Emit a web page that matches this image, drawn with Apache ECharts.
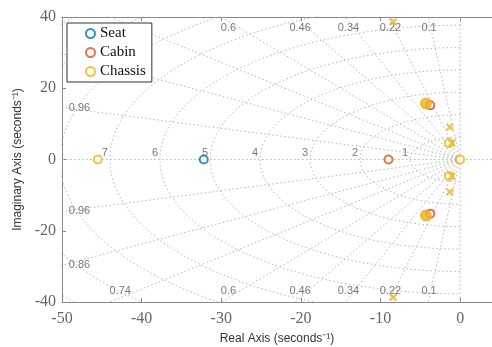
<!DOCTYPE html>
<html>
<head>
<meta charset="utf-8">
<script src="https://cdn.jsdelivr.net/npm/echarts@6/dist/echarts.min.js"></script>
<style>
  html, body { margin: 0; padding: 0; background: #fff; }
  #chart { width: 492px; height: 347px; }
</style>
</head>
<body>
<div id="chart"></div>
<script>
// pole-zero map values (seconds^-1)
var seatZeros = [[-32.2, 0]];
var cabinZeros = [[-9.0, 0], [-3.75, 15.2], [-3.75, -15.2]];
var chassisZeros = [[-45.5, 0], [0, 0], [-1.4, 4.6], [-1.4, -4.6]];
var chassisZeroPairs = [[-4.3, 15.7], [-4.3, -15.7]];   // overlapping zeros, look filled
var chassisPoles = [[-1.05, 4.6], [-1.05, -4.6], [-1.3, 9.1], [-1.3, -9.1], [-8.4, 38.7], [-8.4, -38.7]];

// sgrid
var dampingRatios = [0.1, 0.22, 0.34, 0.46, 0.6, 0.74, 0.86, 0.96];
var freqLabels = [1, 2, 3, 4, 5, 6, 7];          // labelled circles (Hz)
var freqCircles = [1, 2, 3, 4, 5, 6, 7, 8, 9, 10];
var xTicks = [-50, -40, -30, -20, -10, 0];
var yTicks = [-40, -20, 0, 20, 40];

var colors = { seat: '#0072BD', cabin: '#D95319', chassis: '#EDB120' };
var gridColor = '#b5b5b5';
var xMin = -50, xMax = 4, yMin = -40, yMax = 40;

var crossPath = 'path://M2,0L5,3L8,0L10,2L7,5L10,8L8,10L5,7L2,10L0,8L3,5L0,2Z';

var series = [];
function gridLine(data) {
  series.push({
    type: 'line', data: data, symbol: 'none', silent: true, z: 1,
    lineStyle: { color: gridColor, width: 1, type: [1.5, 2.5] }
  });
}
// damping rays
dampingRatios.forEach(function (z) {
  var s = Math.sqrt(1 - z * z);
  gridLine([[0, 0], [-80 * z, 80 * s]]);
  gridLine([[0, 0], [-80 * z, -80 * s]]);
});
// real and imaginary axes
gridLine([[xMin, 0], [xMax, 0]]);
gridLine([[0, yMin], [0, yMax]]);
// natural frequency circles
freqCircles.forEach(function (k) {
  var r = 2 * Math.PI * k, pts = [];
  for (var a = 90; a <= 270; a += 1) {
    var t = a * Math.PI / 180;
    pts.push([r * Math.cos(t), r * Math.sin(t)]);
  }
  gridLine(pts);
});

// grid labels
var topLab = [], botLab = [], leftLab = [];
dampingRatios.forEach(function (z) {
  var tn = z / Math.sqrt(1 - z * z);
  if (-38.8 * tn >= xMin) {
    topLab.push({ value: [-38.8 * tn, 38.8], name: String(z) });
    botLab.push({ value: [-38.8 * tn, -38.8], name: String(z) });
  } else {
    leftLab.push({ value: [-49.9, 50 / tn], name: String(z) });
    leftLab.push({ value: [-49.9, -50 / tn], name: String(z) });
  }
});
var freqLab = freqLabels.map(function (k) {
  return { value: [-2 * Math.PI * k, 0], name: String(k) };
});
function labelSeries(data, pos, dist, offset) {
  series.push({
    type: 'scatter', data: data, symbolSize: 0, silent: true, z: 1,
    label: {
      show: true, position: pos, distance: dist, offset: offset || [0, 0],
      formatter: '{b}', color: '#555', fontSize: 11, fontFamily: 'Liberation Sans, Arial, sans-serif'
    }
  });
}
labelSeries(topLab, 'bottom', 1);
labelSeries(botLab, 'top', 1);
labelSeries(leftLab, 'right', 6);
labelSeries(freqLab, 'top', 1, [-5, 0]);

// systems
function zeroItems(arr) { return arr.map(function (p) { return { value: p }; }); }
series.push({
  name: 'Seat', type: 'scatter', symbol: 'emptyCircle', symbolSize: 8, z: 5,
  itemStyle: { color: colors.seat, borderColor: colors.seat, borderWidth: 2 },
  data: zeroItems(seatZeros)
});
series.push({
  name: 'Cabin', type: 'scatter', symbol: 'emptyCircle', symbolSize: 8, z: 5,
  itemStyle: { color: colors.cabin, borderColor: colors.cabin, borderWidth: 2 },
  data: zeroItems(cabinZeros)
});
series.push({
  name: 'Chassis', type: 'scatter', symbol: 'emptyCircle', symbolSize: 8, z: 6,
  itemStyle: { color: colors.chassis, borderColor: colors.chassis, borderWidth: 2 },
  data: zeroItems(chassisZeros)
    .concat(chassisZeroPairs.map(function (p) {
      return { value: p, symbol: 'circle', symbolSize: 10 };
    }))
    .concat(chassisPoles.map(function (p) {
      return { value: p, symbol: crossPath, symbolSize: 8, itemStyle: { borderWidth: 0 } };
    }))
});

var tickFont = { color: '#666', fontSize: 16, fontFamily: 'Liberation Serif, Times New Roman, serif' };

var chart = echarts.init(document.getElementById('chart'));
chart.setOption({
  animation: false,
  grid: { left: 62, right: 0, top: 17, bottom: 45, outerBoundsMode: 'none', containLabel: false },
  legend: {
    orient: 'vertical', left: 67, top: 23, z: 10,
    data: [
      { name: 'Seat', icon: 'emptyCircle' },
      { name: 'Cabin', icon: 'emptyCircle' },
      { name: 'Chassis', icon: 'emptyCircle' }
    ],
    itemWidth: 9, itemHeight: 9, itemGap: 4, itemTextGap: 14,
    padding: [3, 6, 3, 18],
    backgroundColor: '#fff', borderColor: '#333', borderWidth: 1,
    textStyle: { color: '#111', fontSize: 15, lineHeight: 15, fontFamily: 'Liberation Serif, Times New Roman, serif' }
  },
  xAxis: [{
    type: 'value', min: xMin, max: xMax, interval: 10,
    name: 'Real Axis (seconds\u207b\u00b9)', nameLocation: 'middle', nameGap: 31,
    nameTextStyle: { color: '#333', fontSize: 12, fontFamily: 'Liberation Sans, Arial, sans-serif' },
    axisLine: { onZero: false, lineStyle: { color: '#888' } },
    axisTick: { inside: true, length: 4, lineStyle: { color: '#888' } },
    axisLabel: {
      margin: 9, ...tickFont,
      formatter: function (v) { return xTicks.indexOf(v) >= 0 ? String(v) : ''; }
    },
    splitLine: { show: false }
  }, {
    type: 'value', position: 'top', min: xMin, max: xMax, interval: 10,
    axisLine: { onZero: false, lineStyle: { color: '#888' } },
    axisTick: { inside: true, length: 4, lineStyle: { color: '#888' } },
    axisLabel: { show: false }, splitLine: { show: false }
  }],
  yAxis: [{
    type: 'value', min: yMin, max: yMax, interval: 20,
    name: 'Imaginary Axis (seconds\u207b\u00b9)', nameLocation: 'middle', nameGap: 30,
    nameTextStyle: { color: '#333', fontSize: 12, fontFamily: 'Liberation Sans, Arial, sans-serif' },
    axisLine: { show: true, onZero: false, lineStyle: { color: '#888' } },
    axisTick: { show: true, inside: true, length: 4, lineStyle: { color: '#888' } },
    axisLabel: {
      margin: 6, ...tickFont,
      formatter: function (v) { return yTicks.indexOf(v) >= 0 ? String(v) : ''; }
    },
    splitLine: { show: false }
  }],
  series: series
});
</script>
</body>
</html>
